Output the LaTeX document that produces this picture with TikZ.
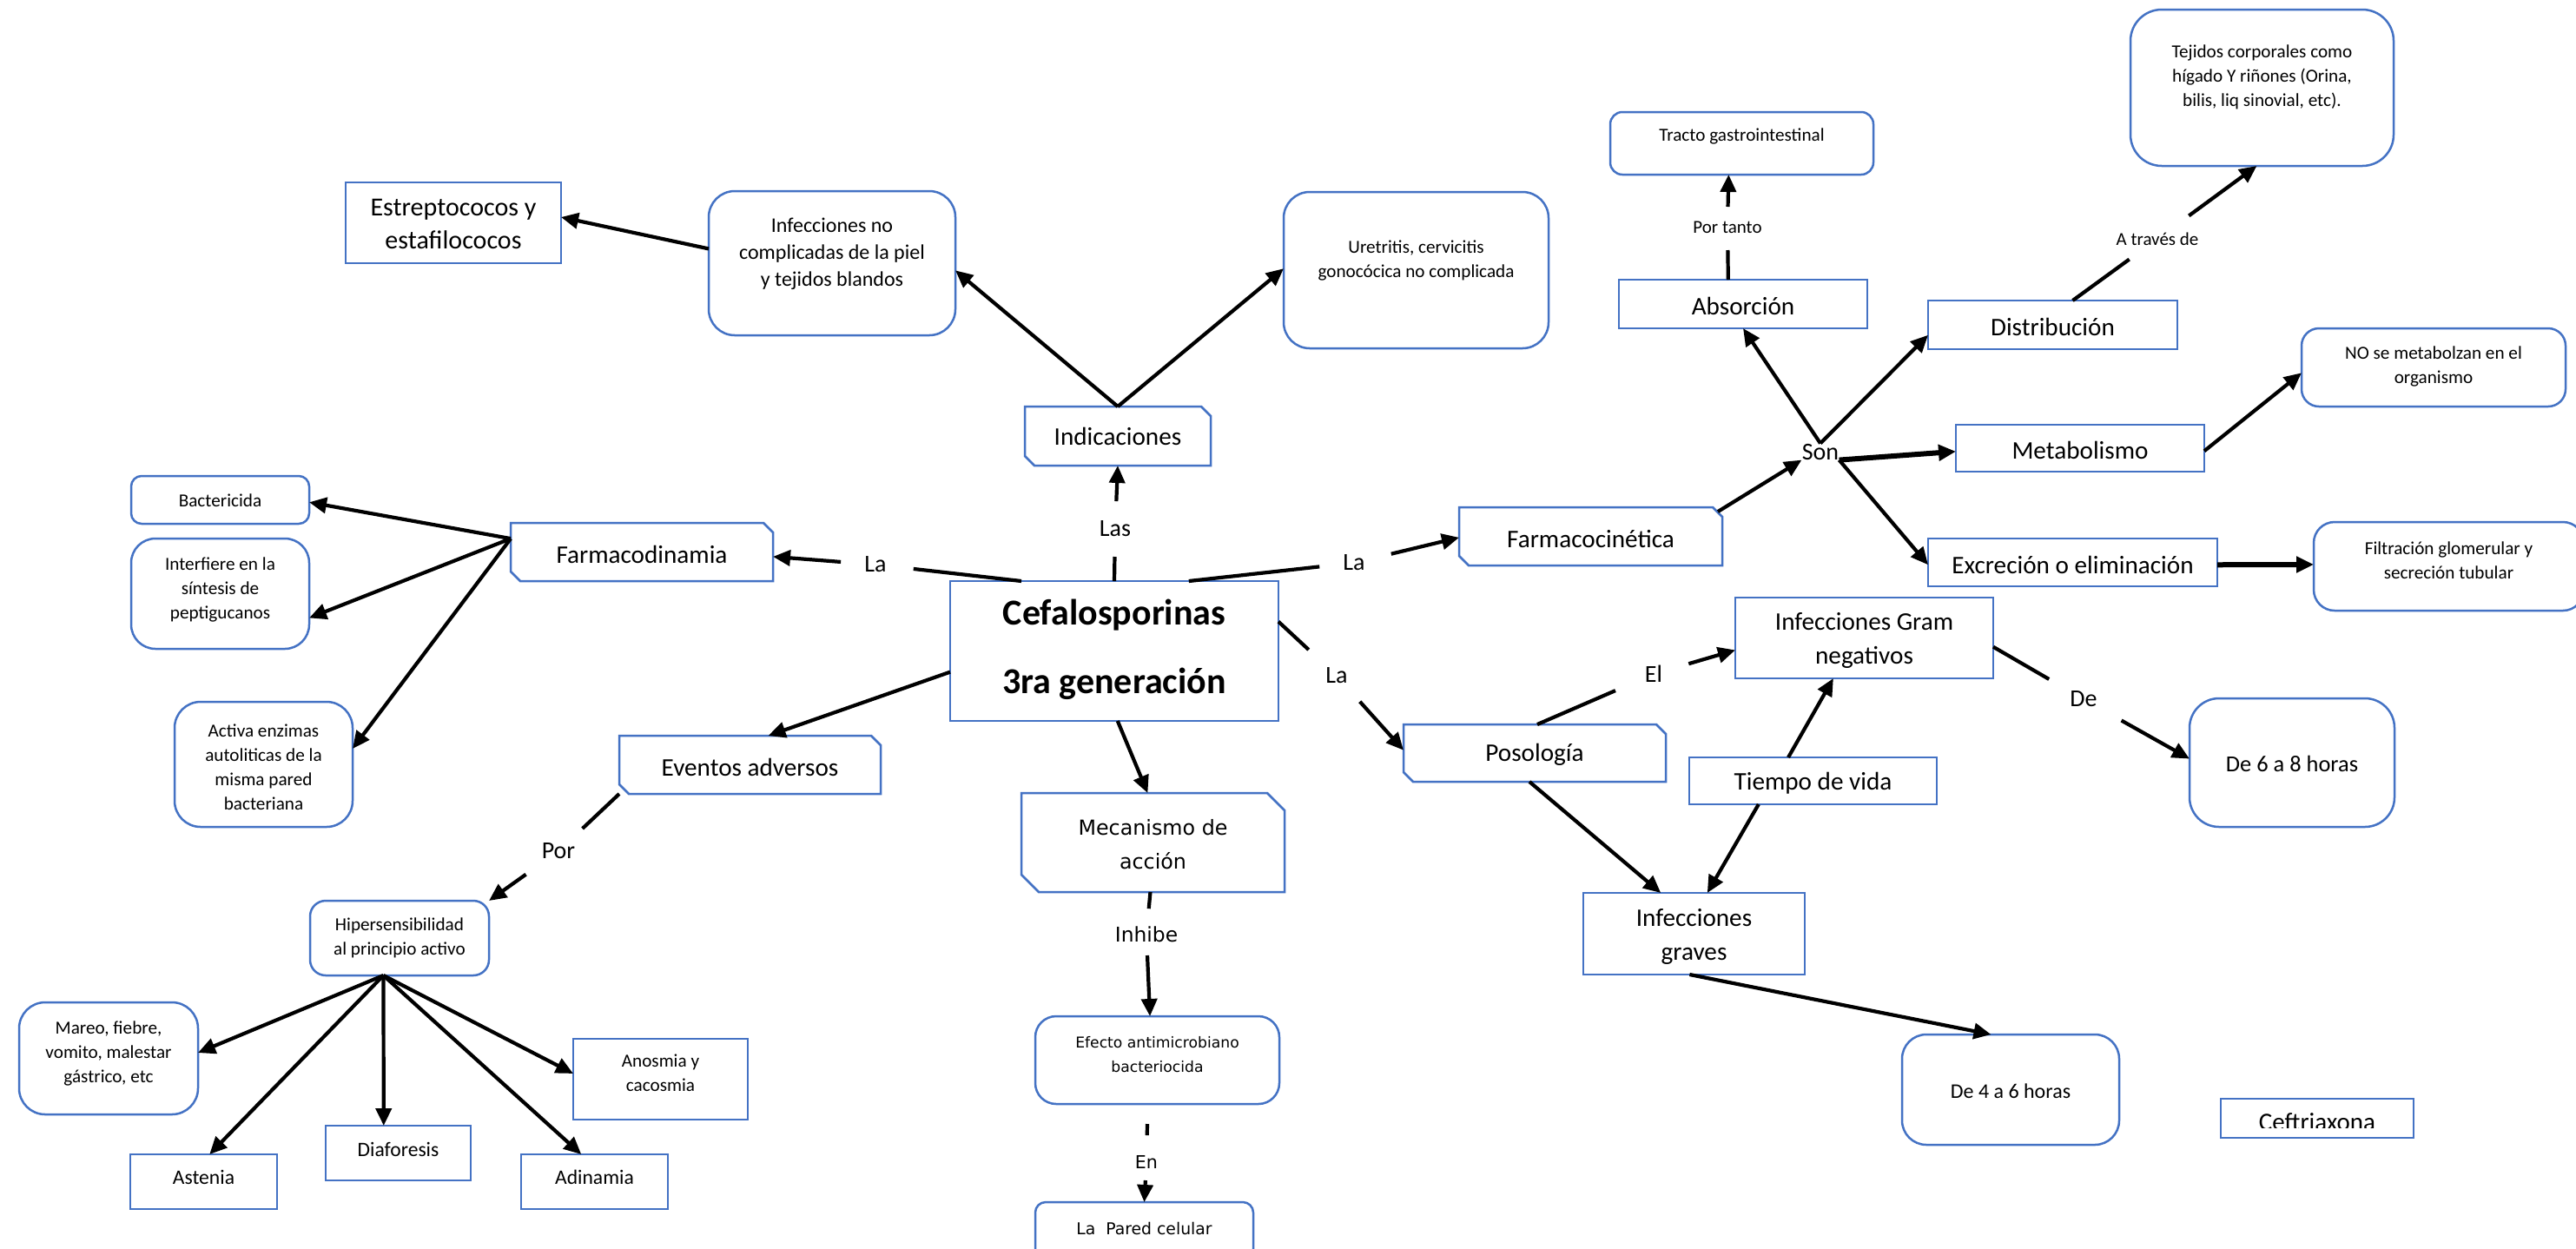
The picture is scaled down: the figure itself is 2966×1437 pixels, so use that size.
\documentclass[tikz,border=0pt]{standalone}
\usepackage{fontspec}
\setmainfont{Carlito}
\newfontfamily\dvs{DejaVu Sans}
\usetikzlibrary{arrows.meta,calc}
\definecolor{bxblue}{HTML}{4472C4}
\newcommand\fsz[2]{\fontsize{#1}{#2}\selectfont}
\tikzset{
 bxbase/.style={draw=bxblue, line width=1.25pt, inner sep=0pt, outer sep=0pt, rectangle},
 sq/.style={bxbase},
 rr/.style={bxbase, rounded corners=#1},
 ch/.style={inner sep=0pt, outer sep=0pt, rectangle},
 bxline/.style={draw=bxblue, line width=1.25pt, line join=miter},
 tx/.style={inner sep=0pt, align=center, text=black},
 lbl/.style={inner sep=0pt, text=black},
 ln/.style={line width=2.1pt, black},
 arr/.style={ln, -{Triangle[length=10pt,width=9pt]}},
 arrb/.style={line width=3pt, black, -{Triangle[length=10pt,width=9pt]}},
 fS/.style={font=\fsz{10.6}{14}},
 fM/.style={font=\fsz{12}{15.5}},
 fL/.style={font=\fsz{14.6}{18}},
 fL2/.style={font=\fsz{14.6}{19.5}},
 fA/.style={font=\fsz{11.8}{14}},
 fB/.style={font=\fsz{15}{18.6}},
 fDe/.style={font=\fsz{13.2}{16}},
 fDe2/.style={font=\fsz{12}{14}},
 fC/.style={font=\fsz{21}{39.5}\bfseries},
 fMec/.style={font=\dvs\fsz{11.9}{19.3}},
 fEf/.style={font=\dvs\fsz{8.6}{14}},
 fPa/.style={font=\dvs\fsz{9.4}{12}},
 fW/.style={font=\fsz{14}{16}},
}
\newcommand\bx[9]{%
 \pgfmathsetmacro\bxcx{(#3+#5)/2}%
 \pgfmathsetmacro\bxcy{(#4+#6)/2}%
 \pgfmathsetmacro\bxww{(#5-#3)*0.5}%
 \pgfmathsetmacro\bxhh{(#6-#4)*0.5}%
 \node[#1, minimum width=\bxww pt, minimum height=\bxhh pt] (#2) at (\bxcx,\bxcy) {};%
 \node[tx, #7] (#2-t) at (\bxcx,#8) {#9};}
\newcommand\chamf[2]{%
 \draw[bxline] (#1.north west) -- ($(#1.north east)+(-#2,0)$) -- ($(#1.north east)+(0,#2)$) -- (#1.south east) -- ($(#1.south west)+(#2,0)$) -- ($(#1.south west)+(0,-#2)$) -- cycle;}
\begin{document}
\begin{tikzpicture}[x=0.5pt,y=-0.5pt]
\fill[white] (0,0) rectangle (2966,1437);
\useasboundingbox (0,0) rectangle (2966,1437);

% ---------- boxes ----------
\bx{sq}{estrep}{398}{210}{646}{303}{fB}{258}{Estreptococos y\\estafilococos}
\bx{rr=15pt}{infnc}{816}{220}{1100}{386}{fM}{292}{Infecciones no\\complicadas de la piel\\y tejidos blandos}
\bx{rr=15pt}{uret}{1478}{221}{1783}{401}{fS}{300}{Uretritis, cervicitis\\gonocócica no complicada}
\bx{ch}{ind}{1180}{468}{1394}{536}{fL}{502}{Indicaciones}
\chamf{ind}{11}
\bx{rr=7pt}{tracto}{1854}{129}{2157}{201}{fS}{157}{Tracto gastrointestinal}
\bx{rr=18pt}{tejidos}{2453}{11}{2756}{191}{fS}{89}{Tejidos corporales como\\hígado Y riñones (Orina,\\bilis, liq sinovial, etc).}
\bx{sq}{absor}{1864}{322}{2150}{378}{fL}{352}{Absorción}
\bx{sq}{distr}{2220}{346}{2507}{402}{fL}{376}{Distribución}
\bx{rr=10pt}{nose}{2650}{378}{2954}{468}{fS}{422}{NO se metabolzan en el\\organismo}
\bx{sq}{metab}{2252}{489}{2538}{543}{fL}{518}{Metabolismo}
\bx{ch}{fcin}{1680}{584}{1983}{651}{fL}{620}{Farmacocinética}
\chamf{fcin}{11}
\bx{sq}{excr}{2220}{620}{2553}{675}{fL}{650}{Excreción o eliminación}
\bx{rr=12pt}{filt}{2664}{601}{2975}{703}{fS}{645}{Filtración glomerular y\\secreción tubular}
\bx{rr=6pt}{bact}{151}{548}{356}{603}{fS}{576}{Bactericida}
\bx{rr=14pt}{interf}{151}{620}{356}{747}{fS}{679}{Interfiere en la\\síntesis de\\peptigucanos}
\bx{ch}{fdin}{588}{602}{890}{669}{fL}{638}{Farmacodinamia}
\chamf{fdin}{11}
\bx{sq}{cef}{1094}{669}{1472}{830}{fC}{748}{Cefalosporinas\\3ra generación}
\bx{rr=15pt}{activa}{201}{808}{406}{952}{fS}{883}{Activa enzimas\\autoliticas de la\\misma pared\\bacteriana}
\bx{ch}{evt}{713}{847}{1014}{914}{fL}{883}{Eventos adversos}
\chamf{evt}{11}
\bx{ch}{mec}{1176}{913}{1479}{1027}{fMec}{972}{Mecanismo de\\acción}
\chamf{mec}{20}
\bx{sq}{gram}{1998}{688}{2295}{781}{fL2}{737}{Infecciones Gram\\negativos}
\bx{ch}{poso}{1616}{834}{1918}{900}{fL}{869}{Posología}
\chamf{poso}{11}
\bx{sq}{tiempo}{1945}{872}{2230}{926}{fL}{902}{Tiempo de vida}
\bx{rr=17pt}{de68}{2521}{804}{2757}{952}{fDe}{879}{De 6 a 8 horas}
\bx{sq}{infg}{1823}{1028}{2078}{1122}{fL2}{1078}{Infecciones\\graves}
\bx{rr=9pt}{hiper}{357}{1037}{563}{1123}{fS}{1080}{Hipersensibilidad\\al principio activo}
\bx{rr=15pt}{mareo}{22}{1154}{228}{1283}{fS}{1213}{Mareo, fiebre,\\vomito, malestar\\gástrico, etc}
\bx{sq}{anos}{660}{1196}{861}{1289}{fS}{1235}{Anosmia y\\cacosmia}
\bx{sq}{asten}{150}{1329}{319}{1392}{fA}{1355}{Astenia}
\bx{sq}{diaf}{375}{1296}{542}{1359}{fA}{1323}{Diaforesis}
\bx{sq}{adin}{600}{1329}{769}{1392}{fA}{1355}{Adinamia}
\bx{rr=12pt}{efecto}{1192}{1170}{1473}{1271}{fEf}{1214}{Efecto antimicrobiano\\bacteriocida}
\bx{rr=6pt}{pared}{1192}{1384}{1443}{1450}{fPa}{1414}{La\ \ Pared celular}
\bx{rr=14pt}{de46}{2190}{1191}{2440}{1318}{fDe2}{1256}{De 4 a 6 horas}
\node[sq, minimum width=111pt, minimum height=22.5pt] (ceft) at (2668,1287.5) {};
\begin{scope}
 \clip (2550,1250) rectangle (2790,1298);
 \node[lbl, font=\fsz{14.5}{17}, anchor=base] (ceft-t) at (2668,1301) {Ceftriaxona};
\end{scope}

% ---------- connector labels ----------
\node[lbl, fW] (las) at (1284,609) {Las};
\node[lbl, fW] (laL) at (1008,650) {La};
\node[lbl, fW] (laR) at (1559,648) {La};
\node[lbl, fW] (laD) at (1539,778) {La};
\node[lbl, fW] (por) at (643,980) {Por};
\node[lbl, font=\dvs\fsz{11.7}{14}] (inhibe) at (1320,1076) {Inhibe};
\node[lbl, font=\dvs\fsz{10.3}{12}] (en) at (1320,1338) {En};
\node[lbl, fW] (son) at (2096,520) {Son};
\node[lbl, font=\fsz{10.5}{12}] (portanto) at (1989,262) {Por tanto};
\node[lbl, font=\fsz{10.5}{12}] (atraves) at (2484,275) {A través de};
\node[lbl, fW] (el) at (1904,776) {El};
\node[lbl, fW] (de) at (2399,805) {De};

% ---------- connectors ----------
\draw[ln, shorten >=16pt] (cef.north) -- (las.center);
\draw[arr, shorten <=16pt] (las.center) -- (ind.south);
\draw[arr] (ind.north) -- ($(infnc.north east)!0.55!(infnc.south east)$);
\draw[arr] (ind.north) -- ($(uret.north west)!0.49!(uret.south west)$);
\draw[arr] ($(infnc.north west)!0.40!(infnc.south west)$) -- ($(estrep.north east)!0.43!(estrep.south east)$);

\draw[ln, shorten >=22pt] ($(cef.north west)!0.217!(cef.north east)$) -- (laL.center);
\draw[arr, shorten <=20pt] (laL.center) -- ($(fdin.north east)!0.58!(fdin.south east)$);
\draw[ln, shorten >=20pt] ($(cef.north west)!0.727!(cef.north east)$) -- (laR.center);
\draw[arr, shorten <=22pt] (laR.center) -- ($(fcin.north west)!0.52!(fcin.south west)$);
\draw[ln, shorten >=22pt] ($(cef.north east)!0.29!(cef.south east)$) -- (laD.center);
\draw[arr, shorten <=20pt] (laD.center) -- ($(poso.north west)!0.45!(poso.south west)$);
\draw[arr] ($(cef.north west)!0.65!(cef.south west)$) -- ($(evt.north west)!0.57!(evt.north east)$);
\draw[arr] ($(cef.south west)!0.51!(cef.south east)$) -- ($(mec.north west)!0.48!(mec.north east)$);

\draw[arr] ($(fdin.north west)!0.27!(fdin.south west)$) -- ($(bact.north east)!0.55!(bact.south east)$);
\draw[arr] ($(fdin.north west)!0.27!(fdin.south west)$) -- ($(interf.north east)!0.72!(interf.south east)$);
\draw[arr] ($(fdin.north west)!0.27!(fdin.south west)$) -- ($(activa.north east)!0.375!(activa.south east)$);

\draw[ln, shorten >=19pt] (evt.south west) -- (por.center);
\draw[arr, shorten <=23pt] (por.center) -- (hiper.north east);
\draw[arr] ($(hiper.south west)!0.41!(hiper.south east)$) -- ($(mareo.north east)!0.45!(mareo.south east)$);
\draw[arr] ($(hiper.south west)!0.41!(hiper.south east)$) -- ($(asten.north west)!0.54!(asten.north east)$);
\draw[arr] ($(hiper.south west)!0.41!(hiper.south east)$) -- ($(diaf.north west)!0.40!(diaf.north east)$);
\draw[arr] ($(hiper.south west)!0.41!(hiper.south east)$) -- ($(adin.north west)!0.41!(adin.north east)$);
\draw[arr] ($(hiper.south west)!0.41!(hiper.south east)$) -- ($(anos.north west)!0.43!(anos.south west)$);

\draw[ln, shorten >=15pt] ($(mec.south west)!0.49!(mec.south east)$) -- (inhibe.center);
\draw[arr, shorten <=12pt] (inhibe.center) -- ($(efecto.north west)!0.47!(efecto.north east)$);
\coordinate (enA) at (1321,1294);
\draw[ln, shorten >=15.5pt] (enA) -- (en.center);
\draw[arr, shorten <=10.5pt] (en.center) -- (pared.north);

\draw[arr] ($(fcin.north east)+(-5,5)$) -- (son.south west);
\draw[arr] (son.north) -- (absor.south);
\draw[arr] (son.north) -- ($(distr.north west)!0.71!(distr.south west)$);
\draw[arrb] (son.south east) -- ($(metab.north west)!0.57!(metab.south west)$);
\draw[arr] (son.south east) -- ($(excr.north west)!0.55!(excr.south west)$);
\draw[ln, shorten >=13pt] ($(absor.north west)!0.44!(absor.north east)$) -- (portanto.center);
\draw[arr, shorten <=12pt] (portanto.center) -- ($(tracto.south west)!0.45!(tracto.south east)$);
\draw[ln, shorten >=20pt] ($(distr.north west)!0.58!(distr.north east)$) -- (atraves.center);
\draw[arr, shorten <=22.5pt] (atraves.center) -- ($(tejidos.south west)!0.48!(tejidos.south east)$);
\draw[arr] ($(metab.north east)!0.56!(metab.south east)$) -- ($(nose.north west)!0.57!(nose.south west)$);
\draw[arrb] ($(excr.north east)!0.55!(excr.south east)$) -- ($(filt.north west)!0.48!(filt.south west)$);

\draw[ln, shorten >=24pt] ($(poso.north west)!0.51!(poso.north east)$) -- (el.center);
\draw[arr, shorten <=21pt] (el.center) -- ($(gram.north west)!0.65!(gram.south west)$);
\draw[ln, shorten >=23pt] ($(gram.north east)!0.61!(gram.south east)$) -- (de.center);
\draw[arr, shorten <=25pt] (de.center) -- ($(de68.north west)!0.47!(de68.south west)$);
\draw[arr] ($(poso.south west)!0.48!(poso.south east)$) -- ($(infg.north west)!0.35!(infg.north east)$);
\draw[arr] ($(tiempo.north west)!0.40!(tiempo.north east)$) -- ($(gram.south west)!0.38!(gram.south east)$);
\draw[arr] ($(tiempo.south west)!0.28!(tiempo.south east)$) -- ($(infg.north west)!0.56!(infg.north east)$);
\draw[arr] ($(infg.south west)!0.48!(infg.south east)$) -- ($(de46.north west)!0.41!(de46.north east)$);
\end{tikzpicture}
\end{document}
